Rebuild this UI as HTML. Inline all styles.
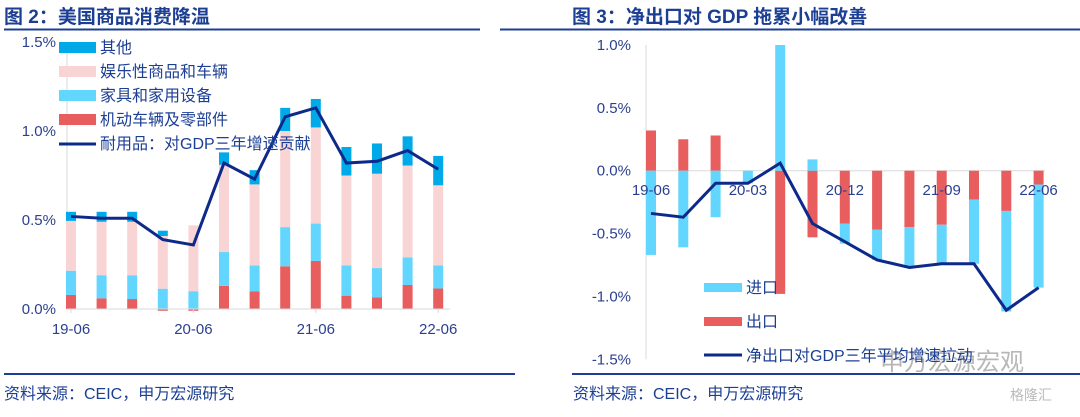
<!DOCTYPE html>
<html><head><meta charset="utf-8"><style>
body{margin:0;width:1080px;height:412px;background:#fff;overflow:hidden;font-family:"Liberation Sans","Noto Sans CJK SC",sans-serif;}
svg text{font-family:"Liberation Sans","Noto Sans CJK SC",sans-serif;}
</style></head><body>
<svg id="s" width="1080" height="412">
<text x="4" y="23" font-size="19" font-weight="bold" fill="#1c3f94">图 2：美国商品消费降温</text>
<line x1="4" y1="29.5" x2="480" y2="29.5" stroke="#1c3f94" stroke-width="2"/>
<text x="572" y="23" font-size="19" font-weight="bold" fill="#1c3f94">图 3：净出口对 GDP 拖累小幅改善</text>
<line x1="500" y1="29.5" x2="1080" y2="29.5" stroke="#1c3f94" stroke-width="2"/>
<line x1="4" y1="374" x2="515" y2="374" stroke="#1c3f94" stroke-width="2"/>
<line x1="572" y1="374" x2="1080" y2="374" stroke="#1c3f94" stroke-width="2"/>
<text x="4" y="399" font-size="16" fill="#1c3f94">资料来源：CEIC，申万宏源研究</text>
<text x="573" y="399" font-size="16" fill="#1c3f94">资料来源：CEIC，申万宏源研究</text>
<text x="880" y="370" font-size="24" fill="#999" opacity="0.7">申万宏源宏观</text>
<text x="1010" y="400" font-size="14" fill="#bbb">格隆汇</text>
<g id="L"></g><g id="R"></g>
</svg>
<script>
// Left chart data
const lCats=['19-06','19-09','19-12','20-03','20-06','20-09','20-12','21-03','21-06','21-09','21-12','22-03','22-06'];
const lTicks=['19-06','20-06','21-06','22-06'];
const lMotor=[0.079,0.06,0.056,-0.01,-0.01,0.13,0.10,0.24,0.27,0.075,0.065,0.135,0.115];
const lFurn=[0.136,0.13,0.134,0.114,0.10,0.19,0.145,0.22,0.21,0.17,0.165,0.155,0.13];
const lLeis=[0.28,0.30,0.30,0.296,0.37,0.49,0.455,0.54,0.54,0.505,0.53,0.516,0.45];
const lOther=[0.051,0.056,0.056,0.03,0.0,0.07,0.08,0.13,0.16,0.16,0.17,0.164,0.165];
const lLine=[0.52,0.51,0.51,0.39,0.36,0.82,0.73,1.08,1.13,0.82,0.83,0.89,0.785];
const lY=[0,0.5,1.0,1.5];
// Right chart data
const rCats=['19-06','19-09','19-12','20-03','20-06','20-09','20-12','21-03','21-06','21-09','21-12','22-03','22-06'];
const rTicks=['19-06','20-03','20-12','21-09','22-06'];
const rExp=[0.32,0.25,0.28,0,-0.98,-0.53,-0.42,-0.47,-0.45,-0.43,-0.23,-0.32,-0.11];
const rImp=[-0.67,-0.61,-0.37,-0.10,1.0,0.09,-0.16,-0.24,-0.32,-0.31,-0.51,-0.80,-0.82];
const rLine=[-0.34,-0.37,-0.10,-0.10,0.06,-0.42,-0.565,-0.71,-0.77,-0.74,-0.74,-1.11,-0.93];
const rY=[1.0,0.5,0,-0.5,-1.0,-1.5];

const NS='http://www.w3.org/2000/svg';
function mk(p,t,a){const e=document.createElementNS(NS,t);for(const k in a)e.setAttribute(k,a[k]);p.appendChild(e);return e;}
const C={other:'#00a9e8',leis:'#f9d4d4',furn:'#62d6ff',motor:'#e85e5e',line:'#0d2a8a',tick:'#2b3f8f'};

// LEFT
const L=document.getElementById('L');
const lx=i=>71+i*30.6, ly=v=>309-v*178;
let ax=mk(L,'line',{x1:67,y1:ly(1.5),x2:67,y2:ly(0),stroke:'#d9d9d9'});

lY.forEach(v=>{const t=mk(L,'text',{x:56,y:ly(v)+5,'font-size':15,fill:C.tick,'text-anchor':'end'});t.textContent=v.toFixed(1)+'%';
});
lCats.forEach((c,i)=>{
  const w=10,x=lx(i)-w/2;let pos=0;
  if(lMotor[i]<0){const r=mk(L,'rect',{x,y:ly(0),width:w,height:ly(lMotor[i])-ly(0),fill:C.motor});}
  [[lMotor,C.motor,'motor-bar'],[lFurn,C.furn,'furniture-bar'],[lLeis,C.leis,'leisure-bar'],[lOther,C.other,'other-bar']].forEach(([a,col,n])=>{
    const v=Math.max(a[i],0);if(v<=0)return;
    const r=mk(L,'rect',{x,y:ly(pos+v),width:w,height:ly(pos)-ly(pos+v),fill:col});
    pos+=v;});
});
let bl=mk(L,'line',{x1:67,y1:ly(0),x2:450,y2:ly(0),stroke:'#d9d9d9'});

lTicks.forEach(t=>{const i=lCats.indexOf(t);
  const tm=mk(L,'line',{x1:lx(i),y1:ly(0),x2:lx(i),y2:ly(0)+4,stroke:'#d9d9d9'});
  const e=mk(L,'text',{x:lx(i),y:334,'font-size':15,fill:C.tick,'text-anchor':'middle'});e.textContent=t;
  });
let lp=mk(L,'polyline',{points:lLine.map((v,i)=>lx(i)+','+ly(v)).join(' '),fill:'none',stroke:C.line,'stroke-width':3});

const lLeg=[['其他',C.other,'r'],['娱乐性商品和车辆',C.leis,'r'],['家具和家用设备',C.furn,'r'],['机动车辆及零部件',C.motor,'r'],['耐用品：对GDP三年增速贡献',C.line,'l']];
lLeg.forEach((d,k)=>{const y=47+k*24;
  if(d[2]=='r'){const r=mk(L,'rect',{x:59,y:y-5,width:37,height:11,fill:d[1]});}
  else{const r=mk(L,'line',{x1:59,y1:y+1,x2:96,y2:y+1,stroke:d[1],'stroke-width':3});}
  const t=mk(L,'text',{x:100,y:y+6,'font-size':16,fill:'#1c3f94'});t.textContent=d[0];
  });

// RIGHT
const R=document.getElementById('R');
const rx=i=>651+i*32.3, ry=v=>170.7-v*125.7;
let ra=mk(R,'line',{x1:646,y1:ry(1.0),x2:646,y2:ry(-1.5),stroke:'#d9d9d9'});

rY.forEach(v=>{const t=mk(R,'text',{x:631,y:ry(v)+5,'font-size':15,fill:C.tick,'text-anchor':'end'});t.textContent=v.toFixed(1)+'%';
});
let rb=mk(R,'line',{x1:646,y1:ry(0),x2:1045,y2:ry(0),stroke:'#d9d9d9'});

rCats.forEach((c,i)=>{const w=10,x=rx(i)-w/2;let p=0,n=0;
  [[rExp,C.motor,'export-bar'],[rImp,C.furn,'import-bar']].forEach(([a,col,nm])=>{const v=a[i];if(v==0)return;
    let y0,y1;if(v>0){y0=p;y1=p+v;p=y1;}else{y0=n;y1=n+v;n=y1;}
    const r=mk(R,'rect',{x,y:ry(Math.max(y0,y1)),width:w,height:Math.abs(ry(y1)-ry(y0)),fill:col});
    });
});
rTicks.forEach(t=>{const i=rCats.indexOf(t);
  const e=mk(R,'text',{x:rx(i),y:195,'font-size':15,fill:C.tick,'text-anchor':'middle'});e.textContent=t;
  });
let rp=mk(R,'polyline',{points:rLine.map((v,i)=>rx(i)+','+ry(v)).join(' '),fill:'none',stroke:C.line,'stroke-width':3});

const rLeg=[['进口',C.furn,'r'],['出口',C.motor,'r'],['净出口对GDP三年平均增速拉动',C.line,'l']];
rLeg.forEach((d,k)=>{const y=287+k*34;
  if(d[2]=='r'){const r=mk(R,'rect',{x:704,y:y-4,width:38,height:9,fill:d[1]});}
  else{const r=mk(R,'line',{x1:704,y1:y,x2:742,y2:y,stroke:d[1],'stroke-width':3});}
  const t=mk(R,'text',{x:746,y:y+6,'font-size':16,fill:'#1c3f94'});t.textContent=d[0];
  });
</script>
</body></html>
